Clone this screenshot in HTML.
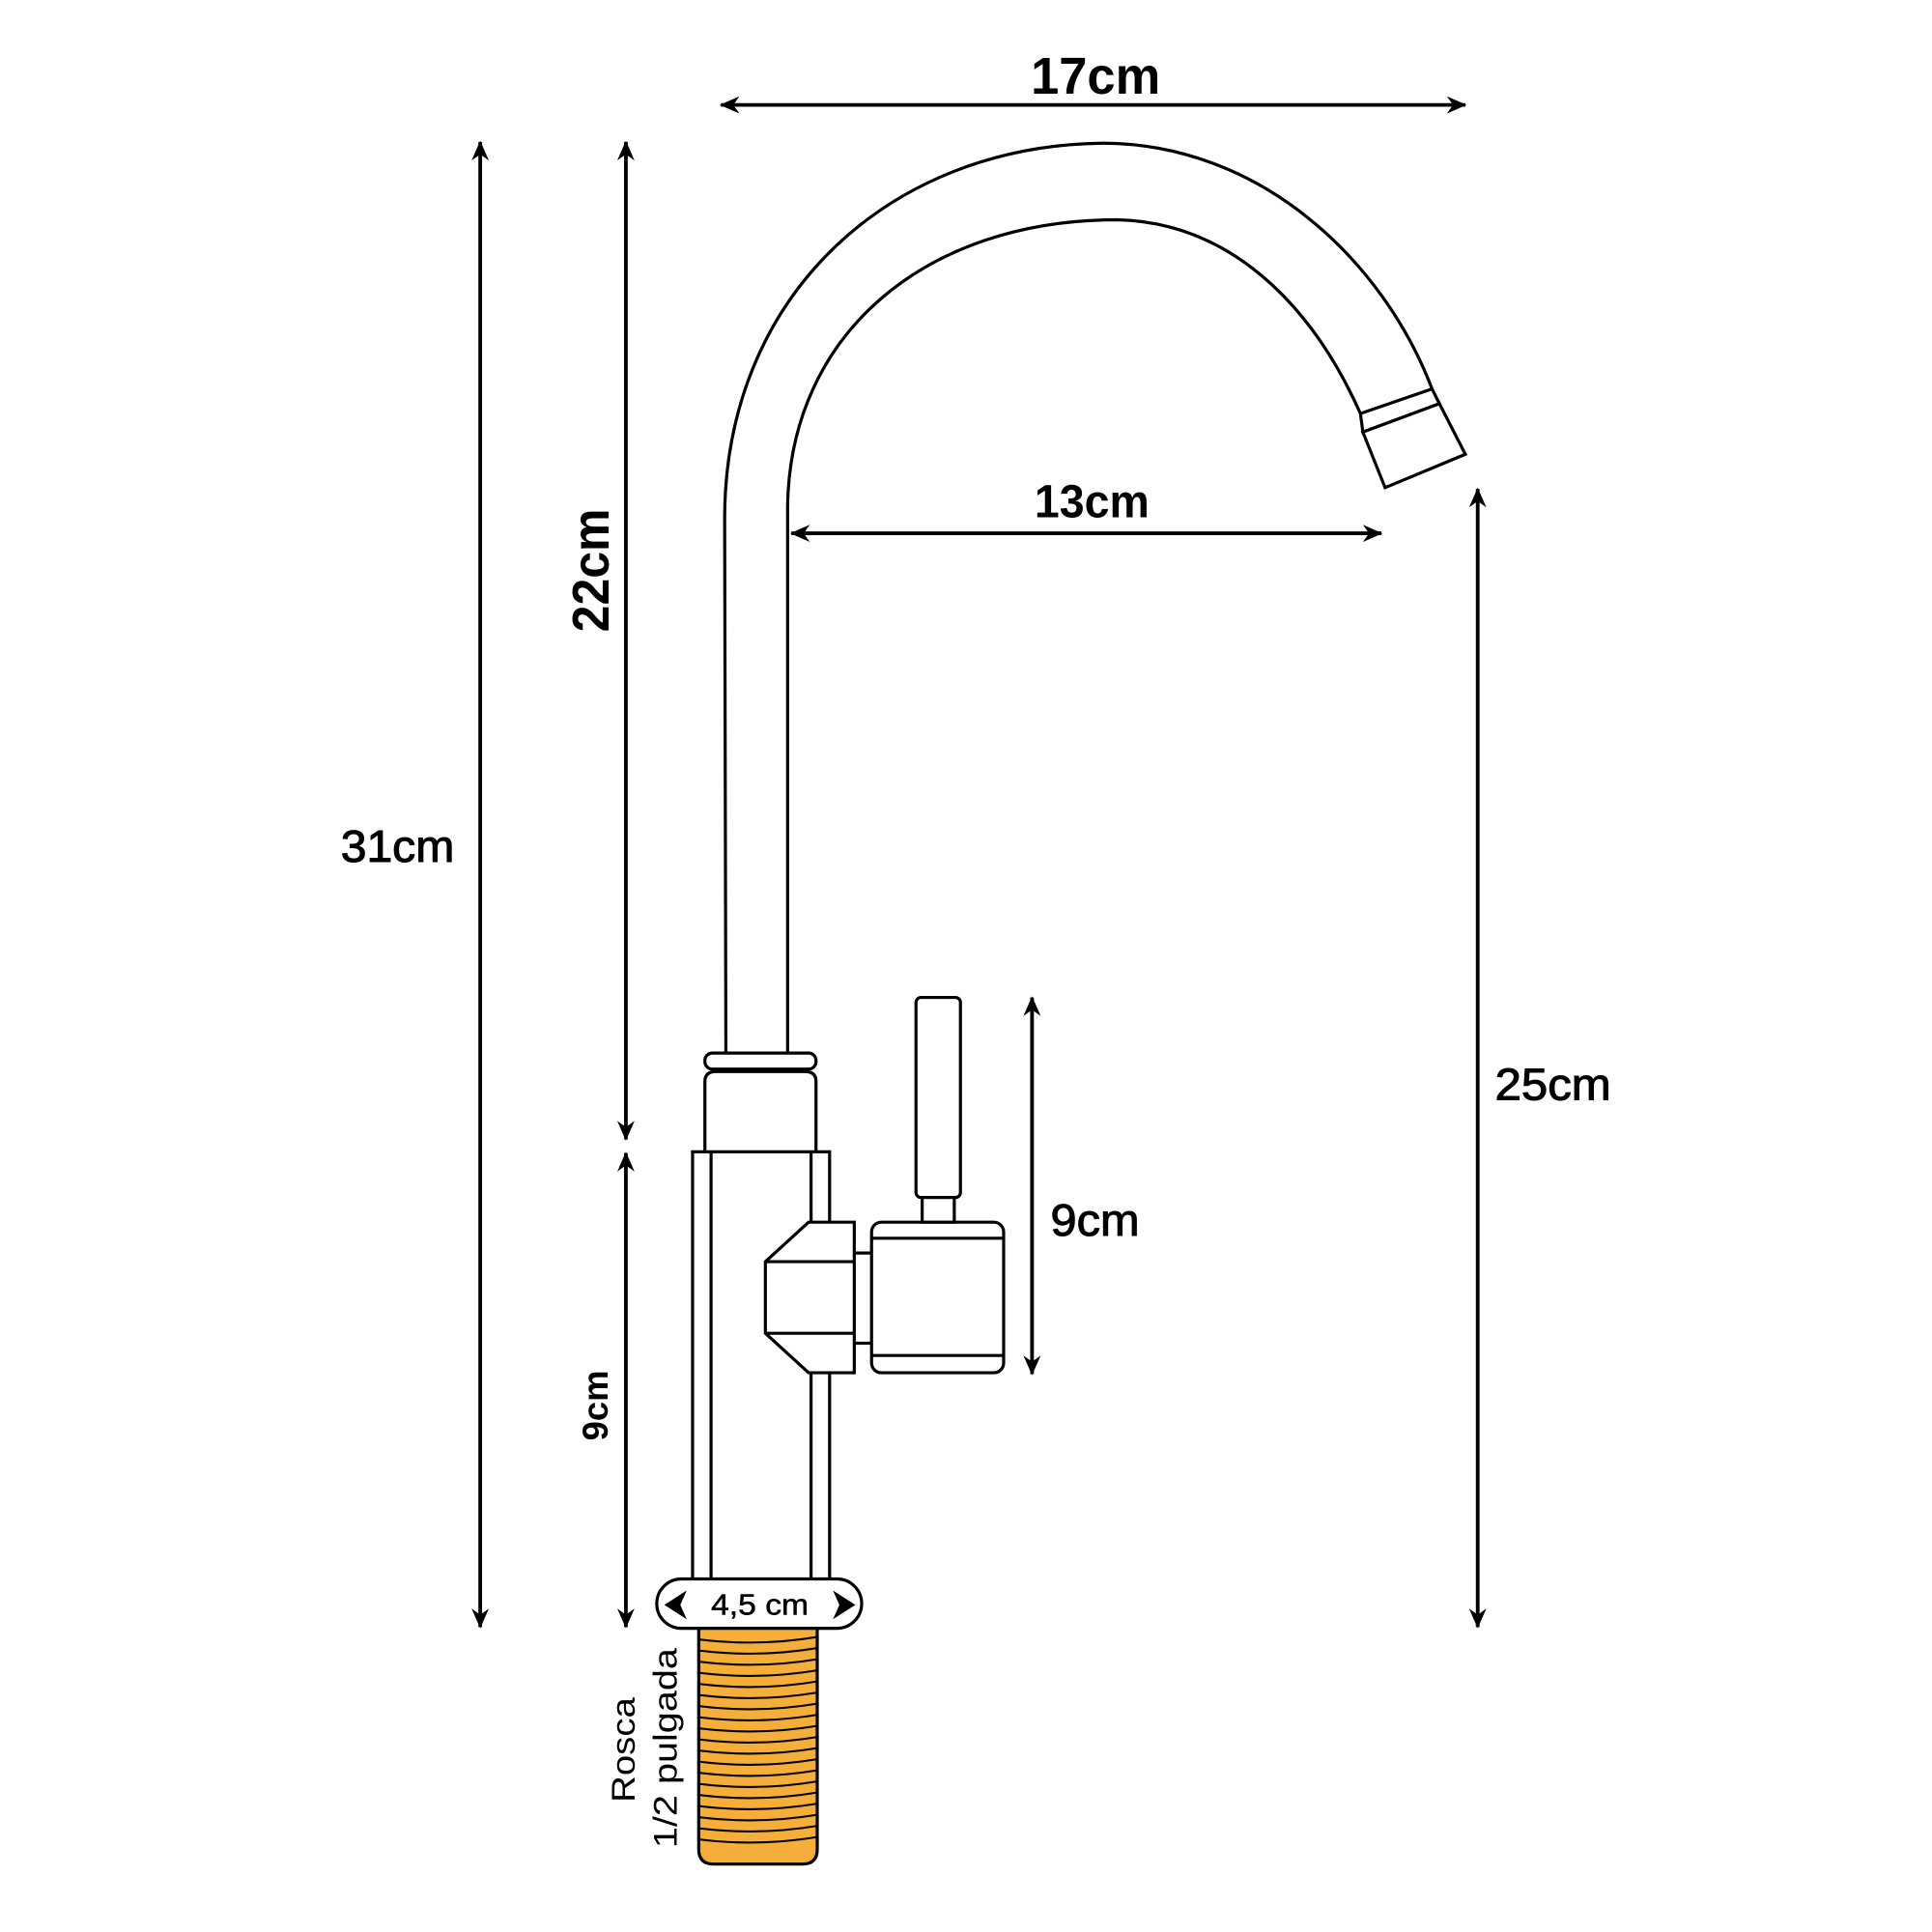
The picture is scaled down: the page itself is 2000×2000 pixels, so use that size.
<!DOCTYPE html>
<html><head><meta charset="utf-8"><style>
html,body{margin:0;padding:0;background:#fff}
svg{display:block}
.t{font-family:"Liberation Sans",sans-serif;font-weight:bold;fill:#000}
.r{font-family:"Liberation Sans",sans-serif;fill:#000}
</style></head><body>
<svg width="2000" height="2000" viewBox="0 0 1565 1565" xmlns="http://www.w3.org/2000/svg">
<defs>
<marker id="a" viewBox="0 0 16 14" refX="15" refY="7" markerWidth="16" markerHeight="14" markerUnits="userSpaceOnUse" orient="auto-start-reverse">
<path d="M0,0 L16,7 L0,14 L5,7 Z" fill="#000"/>
</marker>
</defs>
<rect width="1565" height="1565" fill="#fff"/>
<g stroke="#000" stroke-width="3" fill="none" marker-start="url(#a)" marker-end="url(#a)">
<line x1="584" y1="85" x2="1187" y2="85"/>
<line x1="389" y1="115" x2="389" y2="1318"/>
<line x1="507" y1="115" x2="507" y2="923"/>
<line x1="507" y1="934" x2="507" y2="1318"/>
<line x1="641" y1="432" x2="1119" y2="432"/>
<line x1="1197" y1="396" x2="1197" y2="1318"/>
<line x1="836" y1="808" x2="836" y2="1113"/>
</g>
<text class="t" x="835" y="76" font-size="42" textLength="105" lengthAdjust="spacingAndGlyphs">17cm</text>
<text class="t" x="838" y="419" font-size="38" textLength="93" lengthAdjust="spacingAndGlyphs">13cm</text>
<text class="r" x="276" y="698" font-size="36" textLength="92" lengthAdjust="spacingAndGlyphs" stroke="#000" stroke-width="0.8">31cm</text>
<text class="r" x="1211" y="891" font-size="36" textLength="94" lengthAdjust="spacingAndGlyphs" stroke="#000" stroke-width="0.8">25cm</text>
<text class="r" x="851" y="1001" font-size="36" textLength="72" lengthAdjust="spacingAndGlyphs" stroke="#000" stroke-width="0.8">9cm</text>
<text class="t" transform="translate(493,512) rotate(-90)" font-size="42" textLength="100" lengthAdjust="spacingAndGlyphs">22cm</text>
<text class="t" transform="translate(492,1167) rotate(-90)" font-size="29" textLength="57" lengthAdjust="spacingAndGlyphs">9cm</text>
<text class="t" x="596" y="955" font-size="20" textLength="41" lengthAdjust="spacingAndGlyphs">3cm</text>
<g stroke="#000" stroke-width="2.5" fill="none">
<path d="M588,855 L587,420 C587,240 720,118 893,116 C1020,116 1120,210 1160,315"/>
<path d="M638,855 L638,410 C640,270 750,178 905,178 C995,180 1062,245 1102,335"/>
<polygon points="1102,335 1160,315 1166,327 1104,350" fill="#fff"/>
<polygon points="1104,350 1166,327 1187,368 1122,395" fill="#fff"/>
<rect x="571" y="853" width="90" height="13" rx="6" fill="#fff"/>
<path d="M571,933 L571,876 Q571,868 580,868 L652,868 Q661,868 661,876 L661,933"/>
<rect x="561" y="933" width="111" height="347" fill="#fff"/>
<line x1="576" y1="933" x2="576" y2="1280"/>
<line x1="657" y1="933" x2="657" y2="990"/>
<line x1="657" y1="1112" x2="657" y2="1280"/>
<polygon points="620,1022 655,990 692,990 692,1112 655,1112 620,1080" fill="#fff"/>
<line x1="620" y1="1022" x2="692" y2="1022"/>
<line x1="620" y1="1080" x2="692" y2="1080"/>
<line x1="692" y1="1015" x2="706" y2="1015"/>
<line x1="692" y1="1088" x2="706" y2="1088"/>
<rect x="706" y="990" width="107" height="122" rx="8" fill="#fff"/>
<line x1="706" y1="1003" x2="813" y2="1003"/>
<line x1="706" y1="1098" x2="813" y2="1098"/>
<rect x="742" y="808" width="36" height="162" rx="4" fill="#fff"/>
<rect x="747" y="970" width="26" height="20" fill="#fff"/>
<rect x="532" y="1279" width="166" height="40" rx="20" fill="#fff"/>
<path d="M566,1319 L566,1498 Q566,1510 578,1510 L650,1510 Q662,1510 662,1498 L662,1319 Z" fill="#F6AE3B"/>
</g>
<g stroke="#000" stroke-width="1.6" fill="none">
<path d="M566,1328 Q614,1334 662,1326"/><path d="M566,1337 Q614,1343 662,1335"/>
<path d="M566,1346 Q614,1352 662,1344"/><path d="M566,1355 Q614,1361 662,1353"/>
<path d="M566,1364 Q614,1370 662,1362"/><path d="M566,1373 Q614,1379 662,1371"/>
<path d="M566,1382 Q614,1388 662,1380"/><path d="M566,1391 Q614,1397 662,1389"/>
<path d="M566,1400 Q614,1406 662,1398"/><path d="M566,1409 Q614,1415 662,1407"/>
<path d="M566,1418 Q614,1424 662,1416"/><path d="M566,1427 Q614,1433 662,1425"/>
<path d="M566,1436 Q614,1442 662,1434"/><path d="M566,1445 Q614,1451 662,1443"/>
<path d="M566,1454 Q614,1460 662,1452"/><path d="M566,1463 Q614,1469 662,1461"/>
<path d="M566,1472 Q614,1478 662,1470"/><path d="M566,1481 Q614,1487 662,1479"/>
<path d="M566,1490 Q614,1496 662,1488"/>
</g>
<path d="M554,1291 L540,1300 L554,1309 L550,1300 Z M677,1291 L691,1300 L677,1309 L681,1300 Z" fill="#000" stroke="#000" stroke-width="2"/>
<text class="r" x="576" y="1308" font-size="24" textLength="79" lengthAdjust="spacingAndGlyphs" stroke="#000" stroke-width="0.4">4,5 cm</text>
<text class="r" transform="translate(514,1460) rotate(-90)" font-size="27" textLength="85" lengthAdjust="spacingAndGlyphs">Rosca</text>
<text class="r" transform="translate(548,1497) rotate(-90)" font-size="27" textLength="162" lengthAdjust="spacingAndGlyphs">1/2 pulgada</text>
</svg>
</body></html>
